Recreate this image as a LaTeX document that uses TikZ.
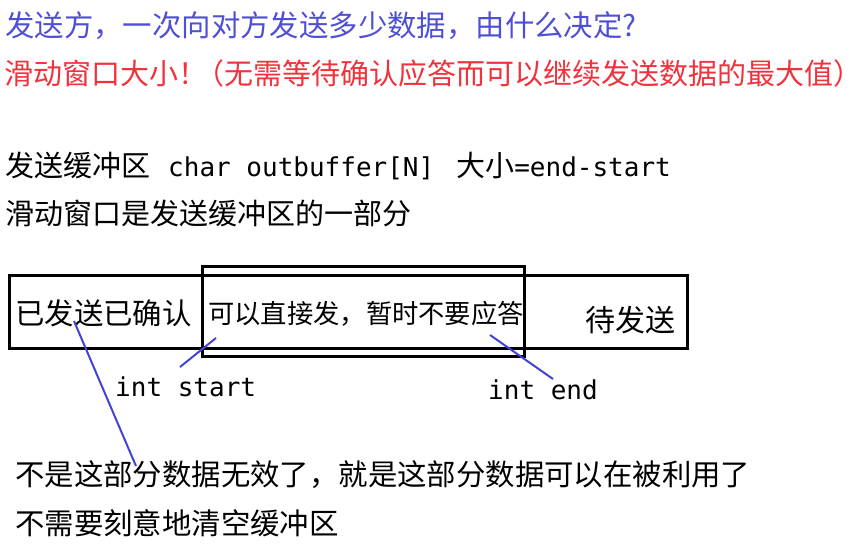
\documentclass[tikz,border=0pt]{standalone}
\usepackage{fontspec}
\setmainfont{Noto Sans CJK SC}
\setmonofont{DejaVu Sans Mono}
\usepackage{xcolor}
\definecolor{qblue}{HTML}{4F4FD6}
\definecolor{qred}{HTML}{F0323C}
\definecolor{ptrblue}{HTML}{4343D3}
\usetikzlibrary{positioning}
\newcommand{\codetxt}[1]{{\fontsize{26}{30}\selectfont\ttfamily #1}}

\begin{document}
\begin{tikzpicture}[x=1pt,y=-1pt,
  txt/.style={anchor=base west,inner sep=0pt,font=\fontsize{29.4}{34}\selectfont},
  code/.style={anchor=base west,inner sep=0pt,font=\fontsize{26}{30}\selectfont\ttfamily},
  box/.style={draw=black,line width=3pt,anchor=north west,inner sep=0pt},
  ptr/.style={draw=ptrblue,line width=2pt}]
  \useasboundingbox (0,0) rectangle (856,544);
  % question and answer
  \node[txt,text=qblue] (q) at (5,36) {发送方，一次向对方发送多少数据，由什么决定?};
  \node[txt,text=qred,font=\fontsize{29}{34}\selectfont] (ans) at (4,84)
    {滑动窗口大小！\kern-12pt（无需等待确认应答而可以继续发送数据的最大值）};
  % buffer notes
  \node[txt,font=\fontsize{29}{34}\selectfont] (bufdef) at (5,176)
    {发送缓冲区\hspace{18pt}\codetxt{char outbuffer[N]}\hspace{22pt}大小\codetxt{=end-start}};
  \node[txt,font=\fontsize{29}{34}\selectfont] (winpart) at (5,224) {滑动窗口是发送缓冲区的一部分};
  % buffer and window
  \node[box,minimum width=678pt,minimum height=73pt] (buf) at (8,274) {};
  \node[box,minimum width=322pt,minimum height=90pt] (win) at (201,265) {};
  \node[txt] (acked) at (15,324) {已发送已确认};
  \node[txt,font=\fontsize{26.3}{30}\selectfont] (cansend) at (208,323) {可以直接发，暂时不要应答};
  \node[txt,font=\fontsize{30}{34}\selectfont] (tosend) at (585,331) {待发送};
  % pointers
  \node[code] (start) at (115,396) {int start};
  \node[code] (end) at (488,399) {int end};
  \coordinate (acked-p) at (74,321);
  \coordinate (start-p) at (180,367);
  \coordinate (win-l) at (216,338);
  \coordinate (win-r) at (490,335);
  \coordinate (end-p) at (553,379);
  \coordinate (note-p) at (136,466);
  \foreach \p/\q in {acked-p/note-p,start-p/win-l,win-r/end-p} \draw[ptr] (\p) -- (\q);
  % note
  \node[txt] (note1) at (15,485) {不是这部分数据无效了，就是这部分数据可以在被利用了};
  \node[txt] (note2) at (15,534) {不需要刻意地清空缓冲区};
\end{tikzpicture}
\end{document}
